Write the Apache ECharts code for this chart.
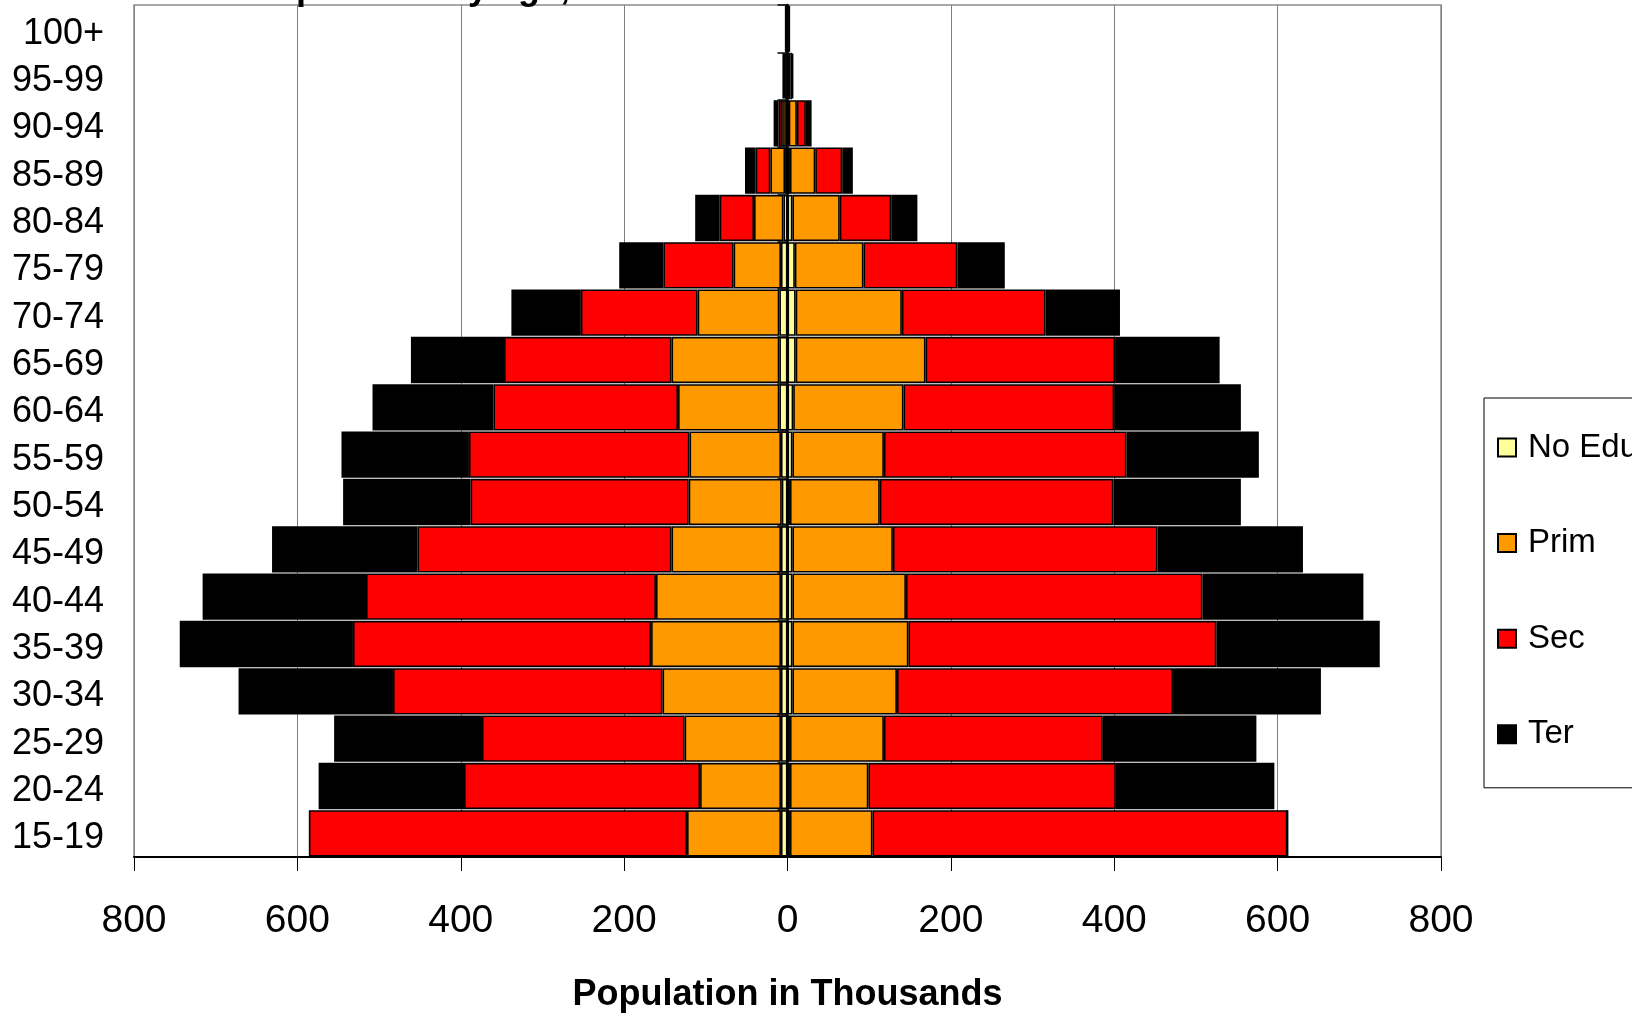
<!DOCTYPE html>
<html>
<head>
<meta charset="utf-8">
<script src="https://cdn.jsdelivr.net/npm/echarts@6/dist/echarts.min.js"></script>
<style>
html,body{margin:0;padding:0;background:#fff;}
#chart{width:1632px;height:1018px;}
</style>
</head>
<body>
<div id="chart"></div>
<script>
// Age groups, bottom to top
var categories = ['15-19','20-24','25-29','30-34','35-39','40-44','45-49','50-54','55-59','60-64','65-69','70-74','75-79','80-84','85-89','90-94','95-99','100+'];
var seriesNames = ['No Edu','Prim','Sec','Ter'];
var xTicks = [-800,-600,-400,-200,0,200,400,600,800];

// Left side (thousands, drawn to the left of zero)
var leftNoEdu = [8,8,8,8,8,8,8,7,8,10,10,10,8,5,3,2,1,0.5];
var leftPrim  = [115,99,118,145,159,153,134,114,112,124,132,100,58,36,18,4.5,2,1];
var leftSec   = [463,289,248,330,365,355,311,267,270,226,205,143,86,42,18,4.5,1.5,0.5];
var leftTer   = [0,178,181,189,212,200,178,156,156,148,114,85,54,30,13,6,1.5,0.5];

// Right side (thousands, drawn to the right of zero)
var rightNoEdu = [3,3,3,6,6,6,6,3,6,7,10,10,9,6,3,1.5,1,0.5];
var rightPrim  = [101,96,115,128,142,139,123,110,112,135,159,130,84,58,31,10,2.5,1];
var rightSec   = [508,303,268,338,377,363,324,286,297,258,232,176,115,63,33,11,2,0.5];
var rightTer   = [0,194,188,181,200,197,178,156,162,155,128,91,58,32,13,7,1.5,0.5];

var colors = ['#FFFF99','#FF9900','#FF0000','#000000'];
var FONT = 'Liberation Sans, Arial, Helvetica, sans-serif';

var leftData = [leftNoEdu, leftPrim, leftSec, leftTer];
var rightData = [rightNoEdu, rightPrim, rightSec, rightTer];

var series = [];
for (var i = 0; i < 4; i++) {
  var style = {color: colors[i], borderColor: '#000', borderWidth: 1.6};
  series.push({
    name: seriesNames[i], type: 'bar', stack: 'pop', yAxisIndex: 0,
    barCategoryGap: '2%', itemStyle: style,
    data: leftData[i].map(function (v) { return -v; })
  });
  series.push({
    name: seriesNames[i], type: 'bar', stack: 'pop', yAxisIndex: 0,
    barCategoryGap: '2%', itemStyle: style,
    data: rightData[i].slice()
  });
}

var chart = echarts.init(document.getElementById('chart'), null, {renderer: 'canvas'});
chart.setOption({
  animation: false,
  backgroundColor: '#fff',
  title: {
    text: 'Population by age, sex and education',
    left: 245, top: -34,
    textStyle: {fontFamily: FONT, fontSize: 36, fontWeight: 'bold', color: '#000'}
  },
  legend: {
    data: seriesNames,
    orient: 'vertical',
    left: 1484, top: 398,
    padding: [33, 140, 37, 13],
    itemWidth: 18, itemHeight: 18, itemGap: 62.6,
    icon: 'rect',
    borderColor: '#000', borderWidth: 1,
    textStyle: {fontFamily: FONT, fontSize: 33, color: '#000', padding: [0, 0, 0, 7]}
  },
  grid: {
    left: 134, right: 191, top: 5, bottom: 161,
    show: true, borderColor: '#8c8c8c', borderWidth: 1.5, backgroundColor: '#fff'
  },
  xAxis: {
    type: 'value', min: -800, max: 800, interval: 200,
    axisLine: {show: true, onZero: false, lineStyle: {color: '#000', width: 2}},
    axisTick: {show: true, inside: false, length: 14, lineStyle: {color: '#000', width: 1}},
    splitLine: {show: true, lineStyle: {color: '#7f7f7f', width: 1}},
    axisLabel: {
      fontFamily: FONT, fontSize: 39, color: '#000', margin: 45,
      formatter: function (v) { return String(Math.abs(v)); }
    },
    name: 'Population in Thousands',
    nameLocation: 'middle', nameGap: 120,
    nameTextStyle: {fontFamily: FONT, fontSize: 36, fontWeight: 'bold', color: '#000'}
  },
  yAxis: [
    {
      type: 'category', data: categories, position: 'left',
      axisLine: {show: false, onZero: false}, axisTick: {show: false}, splitLine: {show: false},
      axisLabel: {fontFamily: FONT, fontSize: 36, color: '#000', margin: 30, interval: 0,
                  verticalAlign: 'top', lineHeight: 10}
    },
    {
      type: 'category', data: categories, position: 'left', offset: -653.5,
      axisLine: {show: true, onZero: false, lineStyle: {color: '#000', width: 2.5}},
      axisTick: {show: true, inside: false, length: 10, lineStyle: {color: '#000', width: 1.5}},
      axisLabel: {show: false}, splitLine: {show: false}
    }
  ],
  series: series
});
</script>
</body>
</html>
